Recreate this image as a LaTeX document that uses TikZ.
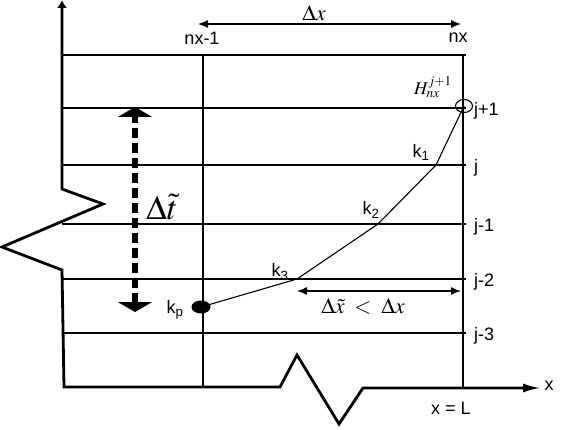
\documentclass[tikz,border=0pt]{standalone}
\usepackage{mathptmx}
\usepackage[no-math]{fontspec}
\setmainfont{Liberation Sans}
\usetikzlibrary{arrows.meta,shapes.geometric}

\begin{document}
\begin{tikzpicture}[x=1pt,y=-1pt,
        gridline/.style={line width=1.1pt},
        axis/.style={line width=2.8pt},
        dim/.style={line width=1.2pt,{Latex[length=10pt,width=8pt]}-{Latex[length=10pt,width=8pt]}},
        lbl/.style={font=\fontsize{18}{21}\selectfont, inner sep=0pt},
        mlbl/.style={font=\fontsize{22}{25}\selectfont, inner sep=0pt}]
        \useasboundingbox (0,0) rectangle (564,430);

        % grid
        \foreach \y/\lab/\n in {55//a,108/j+1/b,165/j/c,224/j-1/d,279/j-2/e,333/j-3/f} {
            \draw[gridline] (62,\y) -- (466,\y);
            \node[lbl, anchor=west] (row\n) at (474,\y+3) {\lab};
        }
        \coordinate (nxmtop) at (203,55);
        \coordinate (nxmbot) at (203,387);
        \coordinate (nxtop) at (463,55);
        \coordinate (nxbot) at (463,387);
        \draw[gridline] (nxmtop) -- (nxmbot);
        \draw[gridline] (nxtop) -- (nxbot);

        % axes with breaks
        \draw[axis, line join=miter, {Latex[length=8pt,width=10pt]}-{Latex[length=18pt,width=9pt]}]
            (62,0) -- (62,189) -- (103,204) -- (2,247) -- (62,270) -- (64,387)
            -- (280,387) -- (297,355) -- (339,424) -- (363,388) -- (541,388);
        \node[lbl] (xlab) at (549,386) {x};
        \node[lbl] (xL) at (451,408) {x = L};

        % column labels
        \node[lbl] (nxm) at (202,38) {nx-1};
        \node[lbl] (nx) at (458,38) {nx};
        \coordinate (dxl) at (198,24);
        \coordinate (dxr) at (461,24);
        \draw[dim] (dxl) -- (dxr);
        \node[mlbl] (dx) at (314,13) {$\Delta x$};

        % characteristic
        \node[draw, ellipse, line width=1.1pt, minimum width=17pt, minimum height=13pt, inner sep=0pt] (top) at (464,106) {};
        \node[fill, ellipse, minimum width=19pt, minimum height=13pt, inner sep=0pt] (kp) at (201,307) {};
        \coordinate (k1) at (436,165);
        \coordinate (k2) at (378,224);
        \coordinate (k3) at (297,279);
        \draw[line width=1.1pt] (top.center) -- (k1) -- (k2) -- (k3) -- (kp.center);
        \node[font=\fontsize{18}{21}\selectfont, inner sep=0pt] (H) at (433,87) {$H_{nx}^{j+1}$};
        \node[lbl] (k1lab) at (421,152) {k\textsubscript{1}};
        \node[lbl] (k2lab) at (371,210) {k\textsubscript{2}};
        \node[lbl] (k3lab) at (280,272) {k\textsubscript{3}};
        \node[lbl] (kplab) at (175,310) {k\textsubscript{p}};

        % dx tilde
        \coordinate (dxtr) at (461,291);
        \draw[dim] (k3 |- dxtr) -- (dxtr);
        \node[mlbl] (dxt) at (363,306) {$\Delta\tilde{x}\;<\;\Delta x$};

        % dt tilde
        \coordinate (dtt) at (135,107);
        \coordinate (dtb) at (135,312);
        \draw[line width=6pt, dash pattern=on 10pt off 5pt,
            {Triangle[length=10pt,width=34pt]}-{Triangle[length=10pt,width=34pt]}] (dtb) -- (dtt);
        \node[font=\fontsize{34}{40}\selectfont, inner sep=0pt] (dt) at (162,207) {$\Delta\tilde{t}$};
\end{tikzpicture}
\end{document}
